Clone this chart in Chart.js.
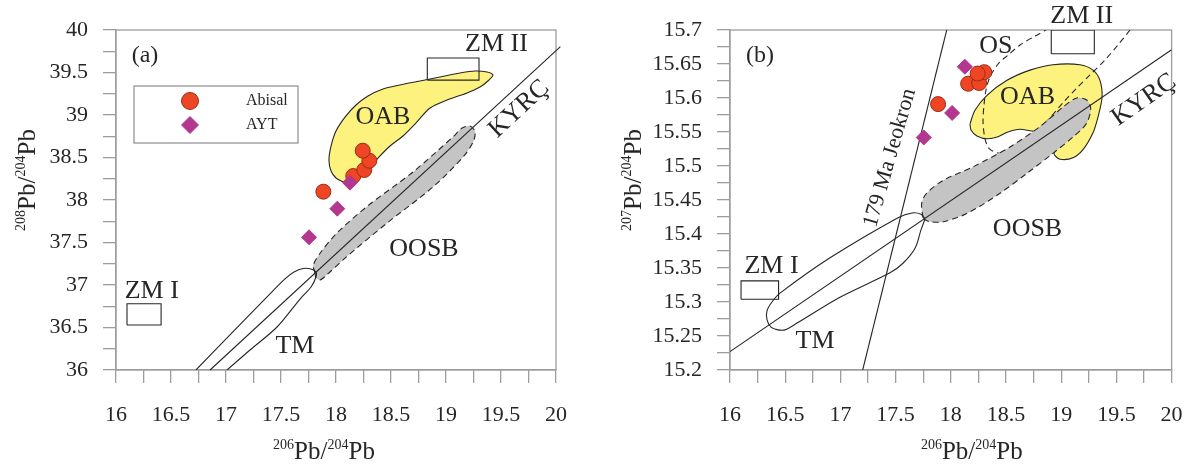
<!DOCTYPE html>
<html>
<head>
<meta charset="utf-8">
<title>Pb isotopes</title>
<script src="https://cdn.jsdelivr.net/npm/chart.js"></script>
<style>
  html, body { margin: 0; padding: 0; background: #fff; }
  #wrap { position: relative; width: 1194px; height: 468px; overflow: hidden; }
  #wrap canvas { position: absolute; top: 0; }
  #pbA { left: 0; }
  #pbB { left: 597px; }
</style>
</head>
<body>
<div id="wrap">
  <canvas id="pbA" width="597" height="468"></canvas>
  <canvas id="pbB" width="640" height="468"></canvas>
</div>
<script>
/************************************************************************************************
 *                                        SAMPLE DATA
 ************************************************************************************************/
// Abisal samples
const abisalPb206 = [17.885, 18.157, 18.257, 18.303, 18.243];
const abisalPb207 = [15.591, 15.621, 15.622, 15.638, 15.636];
const abisalPb208 = [38.098, 38.282, 38.353, 38.462, 38.580];

// AYT samples
const aytPb206 = [18.127, 18.012, 17.755];
const aytPb207 = [15.646, 15.578, 15.542];
const aytPb208 = [38.204, 37.898, 37.561];

/************************************************************************************************
 *                          REFERENCE FIELDS  (a) 206Pb/204Pb - 208Pb/204Pb
 ************************************************************************************************/
const oabA206 = [18.064, 18.000, 17.955, 17.936, 17.955, 18.000, 18.082, 18.182, 18.291, 18.427,
  18.582, 18.764, 18.945, 19.127, 19.264, 19.373, 19.427, 19.391, 19.309, 19.191, 19.009, 18.855,
  18.718, 18.609, 18.491, 18.382, 18.273, 18.173];
const oabA208 = [38.212, 38.259, 38.341, 38.471, 38.635, 38.812, 38.976, 39.118, 39.224, 39.306,
  39.353, 39.400, 39.447, 39.494, 39.518, 39.506, 39.471, 39.412, 39.329, 39.259, 39.176, 39.082,
  38.894, 38.753, 38.635, 38.494, 38.341, 38.235];

const oosbA206 = [17.809, 17.794, 17.855, 18.006, 18.279, 18.703, 19.066, 19.143, 19.218, 19.264,
  19.248, 19.157, 18.885, 18.461, 18.097, 17.915, 17.855, 17.818];
const oosbA208 = [37.138, 37.235, 37.373, 37.608, 37.921, 38.333, 38.745, 38.844, 38.871, 38.804,
  38.686, 38.509, 38.157, 37.726, 37.333, 37.118, 37.059, 37.082];

const tmA206 = [16.727, 17.036, 17.373, 17.536, 17.618, 17.700, 17.773, 17.818, 17.818, 17.773,
  17.673, 17.464, 17.218, 17.009];
const tmA208 = [36.000, 36.412, 36.859, 37.071, 37.153, 37.194, 37.188, 37.153, 37.094, 36.976,
  36.835, 36.506, 36.235, 36.000];

const kyrcA206 = [16.855, 20.04];
const kyrcA208 = [36.0, 39.805];

const zm1A206 = [16.10, 16.41];
const zm1A208 = [36.53, 36.78];
const zm2A206 = [18.83, 19.30];
const zm2A208 = [39.41, 39.67];

/************************************************************************************************
 *                          REFERENCE FIELDS  (b) 206Pb/204Pb - 207Pb/204Pb
 ************************************************************************************************/
const oabB206 = [18.174, 18.219, 18.328, 18.509, 18.717, 18.926, 19.170, 19.288, 19.351, 19.370,
  19.333, 19.288, 19.197, 19.107, 18.989, 18.935, 18.971, 19.062, 18.899, 18.763, 18.627, 18.518,
  18.428, 18.328, 18.237, 18.183];
const oabB207 = [15.562, 15.582, 15.604, 15.626, 15.641, 15.649, 15.649, 15.641, 15.626, 15.601,
  15.572, 15.549, 15.524, 15.512, 15.510, 15.518, 15.529, 15.546, 15.557, 15.551, 15.554, 15.550,
  15.543, 15.540, 15.544, 15.553];

const oosbB206 = [17.748, 17.736, 17.782, 17.932, 18.204, 18.536, 18.808, 19.019, 19.140, 19.231,
  19.267, 19.231, 19.110, 18.928, 18.688, 18.446, 18.144, 17.932, 17.812, 17.757];
const oosbB207 = [15.424, 15.445, 15.460, 15.479, 15.499, 15.528, 15.558, 15.587, 15.600, 15.597,
  15.585, 15.563, 15.543, 15.519, 15.489, 15.460, 15.430, 15.418, 15.418, 15.422];

const tmB206 = [17.766, 17.730, 17.676, 17.567, 17.449, 16.996, 16.607, 16.498, 16.435, 16.371,
  16.335, 16.335, 16.380, 16.453, 16.906, 17.522, 17.649, 17.730];
const tmB207 = [15.422, 15.406, 15.379, 15.357, 15.343, 15.307, 15.269, 15.259, 15.259, 15.263,
  15.274, 15.287, 15.300, 15.313, 15.365, 15.424, 15.431, 15.429];

const osB206 = [19.623, 19.514, 19.397, 19.261, 19.143, 19.016, 18.899, 18.763, 18.645, 18.536,
  18.428, 18.346, 18.310, 18.292, 18.301, 18.319, 18.355, 18.428, 18.518, 18.627, 18.763, 18.862];
const osB207 = [15.700, 15.678, 15.656, 15.634, 15.615, 15.593, 15.571, 15.549, 15.529, 15.519,
  15.519, 15.526, 15.540, 15.565, 15.590, 15.612, 15.631, 15.650, 15.663, 15.678, 15.691, 15.700];

const kyrcB206 = [16.0, 20.0];
const kyrcB207 = [15.227, 15.671];

// 179 Ma isochron
const isoB206 = [17.202, 17.963];
const isoB207 = [15.2, 15.7];

const zm1B206 = [16.10, 16.44];
const zm1B207 = [15.304, 15.331];
const zm2B206 = [18.91, 19.30];
const zm2B207 = [15.665, 15.70];

/************************************************************************************************
 *                                        STYLE
 ************************************************************************************************/
const SERIF = "'Liberation Serif', 'Times New Roman', Times, serif";
const INK = "#262626";
const AXIS_GREY = "#9d9d9d";
const ABISAL_FILL = "#ee4624";
const ABISAL_EDGE = "#9b2c18";
const AYT_FILL = "#b3378f";
const OAB_FILL = "#fcf27d";
const OOSB_FILL = "#c4c4c4";

/************************************************************************************************
 *                                        HELPERS
 ************************************************************************************************/
function toPoints(xs, ys) {
  return xs.map((x, i) => ({ x: x, y: ys[i] }));
}

function toRing(xs, ys) {
  const p = toPoints(xs, ys);
  p.push({ x: xs[0], y: ys[0] });
  return p;
}

function toBox(xs, ys) {
  return [
    { x: xs[0], y: ys[0] }, { x: xs[1], y: ys[0] }, { x: xs[1], y: ys[1] },
    { x: xs[0], y: ys[1] }, { x: xs[0], y: ys[0] },
  ];
}

function outline(label, data, extra) {
  return Object.assign({
    label: label,
    data: data,
    showLine: true,
    pointRadius: 0,
    pointHoverRadius: 0,
    pointHitRadius: 0,
    borderColor: INK,
    borderWidth: 1.1,
    backgroundColor: "transparent",
    fill: false,
    tension: 0,
    order: 5,
  }, extra || {});
}

function sampleSets(yAbisal, yAyt) {
  return [
    {
      label: "AYT",
      data: toPoints(aytPb206, yAyt),
      pointStyle: "rectRot",
      pointRadius: 7.5,
      backgroundColor: AYT_FILL,
      borderColor: AYT_FILL,
      borderWidth: 1,
      order: 0,
    },
    {
      label: "Abisal",
      data: toPoints(abisalPb206, yAbisal),
      pointStyle: "circle",
      pointRadius: 7.5,
      backgroundColor: ABISAL_FILL,
      borderColor: ABISAL_EDGE,
      borderWidth: 1,
      order: 1,
    },
  ];
}

/************************************************************************************************
 *                                        PLUGINS
 ************************************************************************************************/
// grey frame around the plotting area
const framePlugin = {
  id: "frame",
  beforeDatasetsDraw(chart) {
    const a = chart.chartArea;
    const ctx = chart.ctx;
    ctx.save();
    ctx.strokeStyle = AXIS_GREY;
    ctx.lineWidth = 1.3;
    ctx.strokeRect(a.left, a.top, a.right - a.left, a.bottom - a.top);
    ctx.restore();
  },
};

// field names written at data coordinates
const fieldLabelPlugin = {
  id: "fieldLabels",
  afterDatasetsDraw(chart, args, opts) {
    const ctx = chart.ctx;
    const sx = chart.scales.x;
    const sy = chart.scales.y;
    (opts.items || []).forEach((it) => {
      ctx.save();
      ctx.translate(sx.getPixelForValue(it.x), sy.getPixelForValue(it.y));
      ctx.rotate(((it.rot || 0) * Math.PI) / 180);
      ctx.font = (it.size || 26) + "px " + SERIF;
      ctx.fillStyle = INK;
      ctx.textAlign = "center";
      ctx.textBaseline = "middle";
      ctx.fillText(it.text, 0, 0);
      ctx.restore();
    });
  },
};

// axis titles with raised mass numbers
function drawIsotopeTitle(ctx, massTop, massBottom, cx, cy, rot) {
  const parts = [
    [massTop, "14px " + SERIF, -10],
    ["Pb/", "25px " + SERIF, 0],
    [massBottom, "14px " + SERIF, -10],
    ["Pb", "25px " + SERIF, 0],
  ];
  ctx.save();
  let total = 0;
  parts.forEach((p) => { ctx.font = p[1]; total += ctx.measureText(p[0]).width; });
  ctx.translate(cx, cy);
  ctx.rotate(rot);
  ctx.fillStyle = INK;
  ctx.textAlign = "left";
  ctx.textBaseline = "alphabetic";
  let x = -total / 2;
  parts.forEach((p) => {
    ctx.font = p[1];
    ctx.fillText(p[0], x, p[2]);
    x += ctx.measureText(p[0]).width;
  });
  ctx.restore();
}

const titlePlugin = {
  id: "isoTitles",
  afterDraw(chart, args, opts) {
    const a = chart.chartArea;
    const mid = (a.left + a.right) / 2;
    drawIsotopeTitle(chart.ctx, "206", "204", mid + opts.xShift, a.bottom + 89, 0);
    drawIsotopeTitle(chart.ctx, opts.yMass, "204", a.left - opts.yGap, 180, -Math.PI / 2);
  },
};

// boxed legend inside panel (a)
const boxLegendPlugin = {
  id: "boxLegend",
  afterDraw(chart, args, opts) {
    if (!opts.show) return;
    const a = chart.chartArea;
    const ctx = chart.ctx;
    const left = a.left + 18;
    const top = a.top + 56;
    ctx.save();
    ctx.strokeStyle = "#8c8c8c";
    ctx.lineWidth = 1.2;
    ctx.strokeRect(left, top, 164, 57);

    const entries = chart.data.datasets.filter((d) => d.pointRadius > 0).reverse();
    entries.forEach((d, i) => {
      const my = top + 15 + i * 24;
      const mx = left + 56;
      ctx.fillStyle = d.backgroundColor;
      ctx.strokeStyle = d.borderColor;
      ctx.lineWidth = 1;
      ctx.beginPath();
      if (d.pointStyle === "circle") {
        ctx.arc(mx, my, 8.5, 0, Math.PI * 2);
      } else {
        ctx.moveTo(mx, my - 8.5);
        ctx.lineTo(mx + 8.5, my);
        ctx.lineTo(mx, my + 8.5);
        ctx.lineTo(mx - 8.5, my);
        ctx.closePath();
      }
      ctx.fill();
      ctx.stroke();
      ctx.fillStyle = INK;
      ctx.font = "16px " + SERIF;
      ctx.textAlign = "left";
      ctx.textBaseline = "middle";
      ctx.fillText(d.label, left + 112, my);
    });
    ctx.restore();
  },
};

/************************************************************************************************
 *                                        AXES
 ************************************************************************************************/
function linearAxis(min, max, step, fitSize, isX) {
  const major = step * 2;
  return {
    type: "linear",
    min: min,
    max: max,
    ticks: {
      stepSize: step,
      autoSkip: false,
      maxRotation: 0,
      padding: isX ? 19 : 15,
      color: INK,
      font: { family: SERIF, size: 22 },
      callback: (v) => {
        const r = v / major;
        return Math.abs(r - Math.round(r)) < 1e-6 ? String(v) : "";
      },
    },
    grid: {
      drawOnChartArea: false,
      drawTicks: true,
      tickLength: 13,
      color: AXIS_GREY,
      lineWidth: 1.3,
    },
    border: { display: true, color: AXIS_GREY, width: 1.3 },
    afterFit: (scale) => {
      if (isX) scale.height = fitSize;
      else scale.width = fitSize;
    },
  };
}

function makePanel(canvasId, panel) {
  return new Chart(document.getElementById(canvasId), {
    type: "scatter",
    data: { datasets: panel.datasets },
    options: {
      responsive: false,
      animation: false,
      events: [],
      layout: { padding: { left: 0, top: 30, right: panel.padRight, bottom: 0 } },
      scales: {
        x: linearAxis(16, 20, 0.25, 98, true),
        y: linearAxis(panel.yMin, panel.yMax, panel.yStep, panel.yWidth, false),
      },
      plugins: {
        legend: { display: false },
        tooltip: { enabled: false },
        fieldLabels: { items: panel.labels },
        isoTitles: { yMass: panel.yMass, xShift: panel.xShift, yGap: panel.yGap },
        boxLegend: { show: panel.legend },
      },
    },
    plugins: [framePlugin, fieldLabelPlugin, titlePlugin, boxLegendPlugin],
  });
}

/************************************************************************************************
 *                                   PANEL (a)  208Pb/204Pb
 ************************************************************************************************/
const datasetsA = [
  ...sampleSets(abisalPb208, aytPb208),
  outline("KYRÇ", toPoints(kyrcA206, kyrcA208), { order: 3, clip: false }),
  outline("TM", toPoints(tmA206, tmA208), { order: 4, tension: 0.3 }),
  outline("ZM I", toBox(zm1A206, zm1A208), { order: 4 }),
  outline("ZM II", toBox(zm2A206, zm2A208), { order: 4 }),
  outline("OOSB", toRing(oosbA206, oosbA208), {
    order: 8, tension: 0.3, fill: "shape", backgroundColor: OOSB_FILL, borderDash: [6, 4],
  }),
  outline("OAB", toRing(oabA206, oabA208), {
    order: 10, tension: 0.3, fill: "shape", backgroundColor: OAB_FILL,
  }),
];

makePanel("pbA", {
  datasets: datasetsA,
  yMin: 36, yMax: 40, yStep: 0.25,
  yWidth: 116, padRight: 41,
  yMass: "208", xShift: -12, yGap: 81,
  legend: true,
  labels: [
    { text: "(a)", x: 16.264, y: 39.694, size: 24 },
    { text: "ZM I", x: 16.325, y: 36.929 },
    { text: "ZM II", x: 19.459, y: 39.835 },
    { text: "OAB", x: 18.427, y: 38.976 },
    { text: "OOSB", x: 18.80, y: 37.424 },
    { text: "TM", x: 17.627, y: 36.282 },
    { text: "KYRÇ", x: 19.664, y: 39.071, rot: -43 },
  ],
});

/************************************************************************************************
 *                                   PANEL (b)  207Pb/204Pb
 ************************************************************************************************/
const datasetsB = [
  ...sampleSets(abisalPb207, aytPb207),
  outline("KYRÇ", toPoints(kyrcB206, kyrcB207), { order: 3 }),
  outline("179 Ma", toPoints(isoB206, isoB207), { order: 3 }),
  outline("TM", toRing(tmB206, tmB207), { order: 4, tension: 0.3 }),
  outline("ZM I", toBox(zm1B206, zm1B207), { order: 4 }),
  outline("ZM II", toBox(zm2B206, zm2B207), { order: 4 }),
  outline("OOSB", toRing(oosbB206, oosbB207), {
    order: 8, tension: 0.3, fill: "shape", backgroundColor: OOSB_FILL, borderDash: [6, 4],
  }),
  outline("OS", toPoints(osB206, osB207), { order: 9, tension: 0.3, borderDash: [6, 4] }),
  outline("OAB", toRing(oabB206, oabB207), {
    order: 10, tension: 0.3, fill: "shape", backgroundColor: OAB_FILL,
  }),
];

// canvas is wider than the visible strip so the axis keeps its full length
makePanel("pbB", {
  datasets: datasetsB,
  yMin: 15.2, yMax: 15.7, yStep: 0.025,
  yWidth: 133, padRight: 65.4,
  yMass: "207", xShift: 21, yGap: 89,
  legend: false,
  labels: [
    { text: "(b)", x: 16.272, y: 15.662, size: 24 },
    { text: "ZM I", x: 16.376, y: 15.352 },
    { text: "TM", x: 16.77, y: 15.243 },
    { text: "ZM II", x: 19.186, y: 15.721 },
    { text: "OS", x: 18.409, y: 15.676 },
    { text: "OAB", x: 18.695, y: 15.601 },
    { text: "OOSB", x: 18.695, y: 15.407 },
    { text: "KYRÇ", x: 19.75, y: 15.597, rot: -35 },
    { text: "179 Ma Jeokron", x: 17.449, y: 15.512, rot: -74, size: 22 },
  ],
});
</script>
</body>
</html>
